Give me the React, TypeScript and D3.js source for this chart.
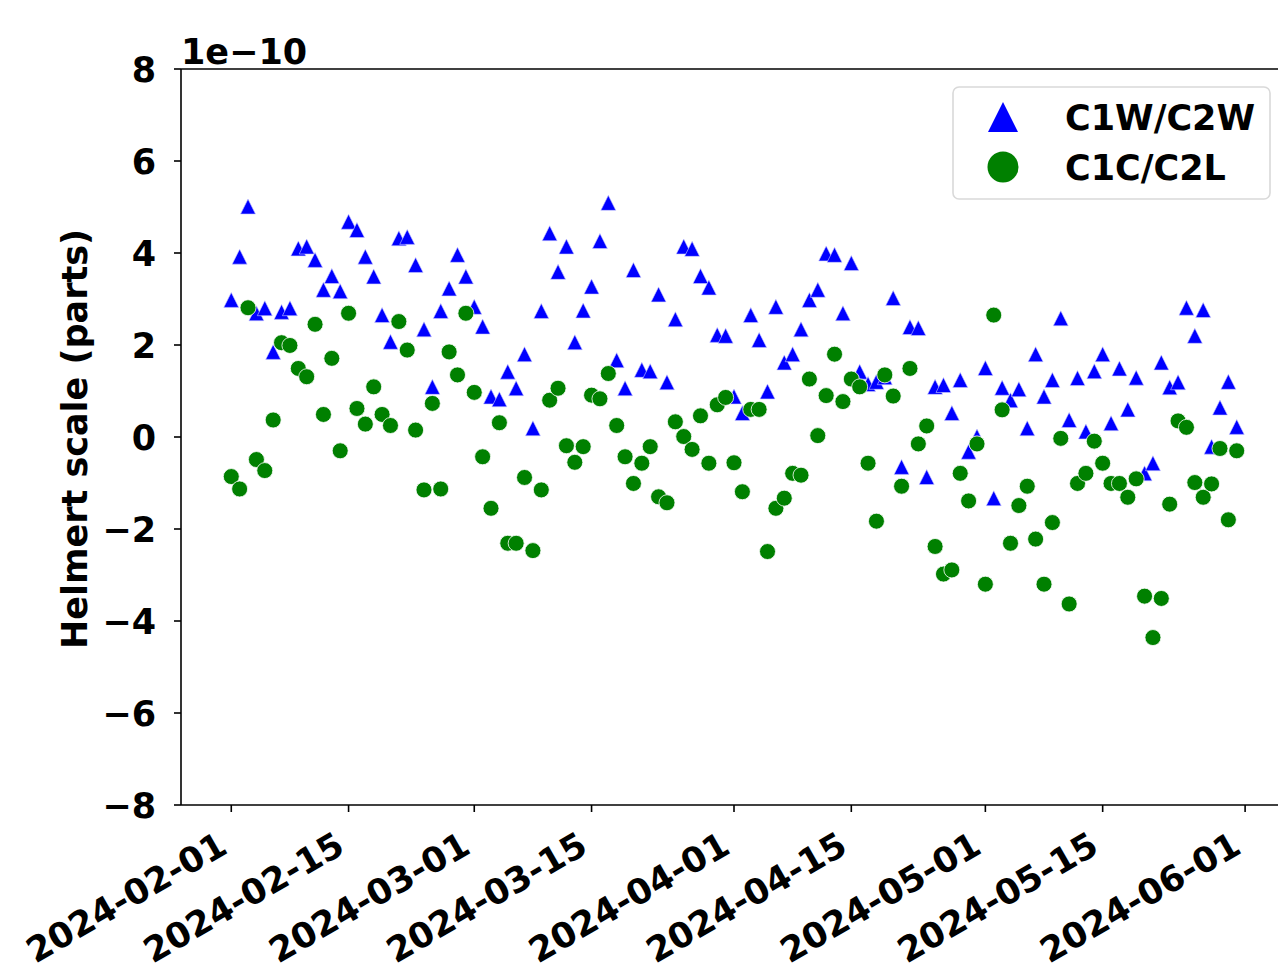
import React from "react";
import * as d3 from "d3";

// daily values from 2024-02-01 to 2024-05-31, in units of 1e-10
const startDate = new Date(2024, 1, 1);

const c1wC2w = [
  2.98, 3.92, 5.01, 2.69, 2.8, 1.85, 2.72, 2.8, 4.1, 4.14, 3.85, 3.2, 3.5, 3.17, 4.68,
  4.5, 3.92, 3.49, 2.65, 2.07, 4.32, 4.35, 3.74, 2.34, 1.09, 2.74, 3.23, 3.96, 3.49,
  2.83, 2.4, 0.88, 0.82, 1.42, 1.06, 1.8, 0.19, 2.74, 4.43, 3.59, 4.14, 2.06, 2.75,
  3.27, 4.26, 5.09, 1.67, 1.06, 3.63, 1.46, 1.43, 3.1, 1.19, 2.56, 4.14, 4.09, 3.5,
  3.25, 2.22, 2.2, 0.88, 0.52, 2.65, 2.11, 0.99, 2.83, 1.62, 1.8, 2.34, 2.98, 3.2,
  3.99, 3.96, 2.69, 3.78, 1.42, 1.15, 1.2, 1.3, 3.02, -0.65, 2.39, 2.37, -0.87, 1.09,
  1.13, 0.52, 1.24, -0.32, 0.01, 1.5, -1.33, 1.07, 0.8, 1.04, 0.19, 1.8, 0.88, 1.24,
  2.58, 0.37, 1.28, 0.12, 1.43, 1.8, 0.3, 1.49, 0.6, 1.29, -0.79, -0.57, 1.62, 1.08,
  1.19, 2.81, 2.2, 2.76, -0.21, 0.64, 1.2, 0.22,
];

const c1cC2l = [
  -0.86, -1.13, 2.81, -0.49, -0.73, 0.37, 2.05, 1.99, 1.49, 1.31, 2.45, 0.49, 1.71,
  -0.3, 2.69, 0.62, 0.28, 1.09, 0.49, 0.25, 2.51, 1.89, 0.15, -1.15, 0.73, -1.13, 1.85,
  1.35, 2.69, 0.97, -0.43, -1.55, 0.31, -2.31, -2.31, -0.88, -2.47, -1.15, 0.8, 1.06,
  -0.19, -0.55, -0.21, 0.91, 0.83, 1.38, 0.25, -0.43, -1.01, -0.57, -0.21, -1.3, -1.43,
  0.33, 0.01, -0.27, 0.46, -0.57, 0.7, 0.86, -0.56, -1.19, 0.6, 0.6, -2.49, -1.55,
  -1.33, -0.79, -0.83, 1.26, 0.03, 0.9, 1.8, 0.77, 1.26, 1.09, -0.57, -1.83, 1.35, 0.89,
  -1.07, 1.49, -0.15, 0.24, -2.38, -2.98, -2.89, -0.79, -1.39, -0.15, -3.2, 2.65, 0.59,
  -2.31, -1.49, -1.07, -2.22, -3.2, -1.86, -0.03, -3.63, -1.01, -0.79, -0.09, -0.57,
  -1.01, -1.01, -1.31, -0.91, -3.46, -4.36, -3.51, -1.46, 0.35, 0.21, -0.99, -1.31,
  -1.02, -0.25, -1.8, -0.3,
];

const xTickLabels = [
  "2024-02-01", "2024-02-15", "2024-03-01", "2024-03-15", "2024-04-01",
  "2024-04-15", "2024-05-01", "2024-05-15", "2024-06-01",
];
const yTicks = [-8, -6, -4, -2, 0, 2, 4, 6, 8];

const legendItems = [
  { label: "C1W/C2W", shape: "triangle", color: "blue" },
  { label: "C1C/C2L", shape: "circle", color: "green" },
];

const W = 1278;
const H = 970;
const left = 181;
const top = 69;
const bottom = 805;
const FONT = "DejaVu Sans, sans-serif";
const FS = 35;

// matplotlib "^" marker: width == height
const tri = (s) => `M0,${-s}L${-s},${s}L${s},${s}Z`;

export default function App() {
  const parse = d3.timeParse("%Y-%m-%d");
  const x = d3
    .scaleTime()
    .domain([new Date(2024, 0, 26), new Date(2024, 5, 6)])
    .range([left, 1287]);
  const y = d3.scaleLinear().domain([-8, 8]).range([bottom, top]);

  const day = (i) => d3.timeDay.offset(startDate, i);

  return (
    <svg
      width={W}
      height={H}
      style={{ position: "absolute", left: 0, top: 0, background: "white" }}
      fontFamily={FONT}
      fontWeight="bold"
    >
      {/* spines */}
      <line x1={left} x2={left} y1={top} y2={bottom} stroke="black" strokeWidth={1.6} />
      <line x1={left} x2={W} y1={bottom} y2={bottom} stroke="black" strokeWidth={1.6} />
      <line x1={left} x2={W} y1={top} y2={top} stroke="black" strokeWidth={1.6} />

      {/* y ticks */}
      {yTicks.map((t) => (
        <g key={t} transform={`translate(0,${y(t)})`}>
          <line x1={left - 7} x2={left} stroke="black" strokeWidth={1.6} />
          <text x={left - 25} dy="0.36em" textAnchor="end" fontSize={FS}>
            {t < 0 ? `\u2212${Math.abs(t)}` : t}
          </text>
        </g>
      ))}
      <text x={left} y={64} fontSize={FS}>1e{"\u2212"}10</text>
      <text
        transform={`translate(87,439) rotate(-90)`}
        textAnchor="middle"
        fontSize={FS}
      >
        Helmert scale (parts)
      </text>

      {/* x ticks */}
      {xTickLabels.map((s) => {
        const px = x(parse(s));
        return (
          <g key={s}>
            <line x1={px} x2={px} y1={bottom} y2={bottom + 7} stroke="black" strokeWidth={1.6} />
            <text
              transform={`translate(${px - 2},${bottom + 47}) rotate(-30)`}
              textAnchor="end"
              fontSize={FS}
            >
              {s}
            </text>
          </g>
        );
      })}

      {/* points */}
      {c1wC2w.map((v, i) => (
        <path
          key={"w" + i}
          d={tri(7.5)}
          transform={`translate(${x(day(i))},${y(v)})`}
          fill="blue"
          stroke="#ccccff"
          strokeWidth={0.6}
        />
      ))}
      {c1cC2l.map((v, i) => (
        <circle
          key={"c" + i}
          cx={x(day(i))}
          cy={y(v)}
          r={8}
          fill="green"
          stroke="white"
          strokeWidth={0.8}
        />
      ))}

      {/* legend */}
      <rect x={953} y={87} width={317} height={112} rx={6} fill="white" fillOpacity={0.8} stroke="#d9d9d9" strokeWidth={1.6} />
      {legendItems.map((it, i) => (
        <g key={it.label} transform={`translate(1003,${117 + i * 50})`}>
          {it.shape === "triangle" ? (
            <path d={tri(15)} fill={it.color} />
          ) : (
            <circle r={15.5} fill={it.color} />
          )}
          <text x={62} dy="0.36em" fontSize={FS}>
            {it.label}
          </text>
        </g>
      ))}
    </svg>
  );
}
